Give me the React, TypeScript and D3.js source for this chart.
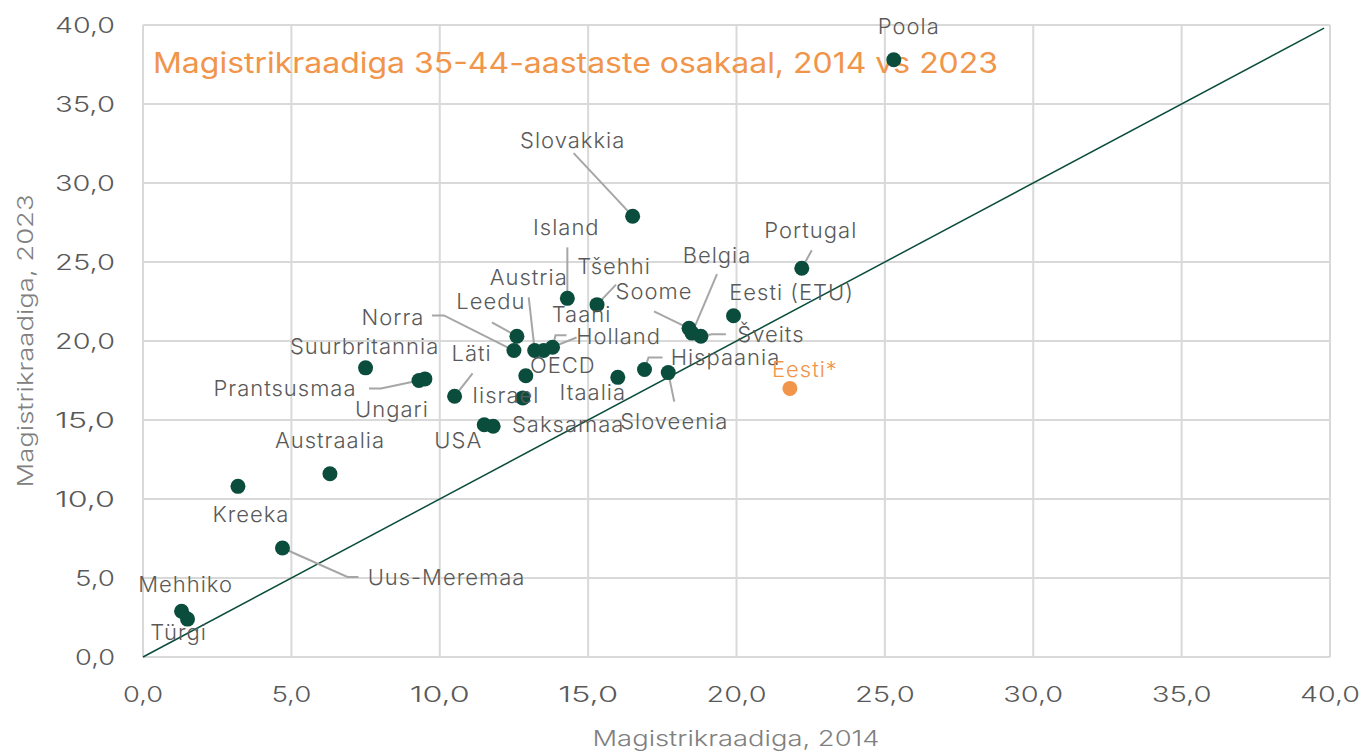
import React, { useEffect, useRef } from "react";
import * as d3 from "d3";

// Magistrikraadiga 35-44-aastaste osakaal
const countries = [
  "Poola", "Slovakkia", "Island", "Tšehhi", "Portugal", "Belgia", "Soome", "Eesti (ETU)",
  "Šveits", "Austria", "Leedu", "Taani", "Holland", "Norra", "OECD", "Läti",
  "Suurbritannia", "Prantsusmaa", "Ungari", "Iisrael", "Itaalia", "Hispaania", "Sloveenia",
  "Saksamaa", "USA", "Austraalia", "Kreeka", "Uus-Meremaa", "Mehhiko", "Türgi", "Eesti*",
];
const x2014 = [
  25.3, 16.5, 14.3, 15.3, 22.2, 18.5, 18.4, 19.9,
  18.8, 13.2, 12.6, 13.8, 13.5, 12.5, 12.9, 10.5,
  7.5, 9.3, 9.5, 12.8, 16.0, 16.9, 17.7,
  11.8, 11.5, 6.3, 3.2, 4.7, 1.3, 1.5, 21.8,
];
const y2023 = [
  37.8, 27.9, 22.7, 22.3, 24.6, 20.5, 20.8, 21.6,
  20.3, 19.4, 20.3, 19.6, 19.4, 19.4, 17.8, 16.5,
  18.3, 17.5, 17.6, 16.4, 17.7, 18.2, 18.0,
  14.6, 14.7, 11.6, 10.8, 6.9, 2.9, 2.4, 17.0,
];
const highlight = ["Eesti*"];

const xTicks = [0, 5, 10, 15, 20, 25, 30, 35, 40];
const yTicks = [0, 5, 10, 15, 20, 25, 30, 35, 40];

// label offsets in px from the point: [dx, dy(baseline), leader points...]
const labelPlacement: Record<string, { dx: number; dy: number; leader?: number[][] }> = {
  "Poola": { dx: 15, dy: -26 },
  "Slovakkia": { dx: -60, dy: -68, leader: [[-59, -63]] },
  "Island": { dx: -1, dy: -63, leader: [[0, -51]] },
  "Tšehhi": { dx: 17, dy: -31, leader: [[19, -20]] },
  "Portugal": { dx: 9, dy: -30, leader: [[10, -18]] },
  "Belgia": { dx: 25, dy: -70, leader: [[25, -59]] },
  "Soome": { dx: -35, dy: -29, leader: [[-35, -17]] },
  "Eesti (ETU)": { dx: 58, dy: -16 },
  "Šveits": { dx: 70, dy: 6, leader: [[25, -2], [11, -2]] },
  "Austria": { dx: -6, dy: -65, leader: [[-6, -53]] },
  "Leedu": { dx: -26, dy: -27, leader: [[-25, -14]] },
  "Taani": { dx: 29, dy: -25, leader: [[14, -12], [3, -12]] },
  "Holland": { dx: 75, dy: -6, leader: [[33, -13]] },
  "Norra": { dx: -121, dy: -25, leader: [[-82, -35], [-70, -35]] },
  "OECD": { dx: 37, dy: -3 },
  "Läti": { dx: 17, dy: -35, leader: [[18, -23]] },
  "Suurbritannia": { dx: -1, dy: -14 },
  "Prantsusmaa": { dx: -134, dy: 15, leader: [[-50, 8], [-38, 8]] },
  "Ungari": { dx: -33, dy: 38 },
  "Iisrael": { dx: -17, dy: 5 },
  "Itaalia": { dx: -25, dy: 23 },
  "Hispaania": { dx: 81, dy: -4, leader: [[18, -12], [4, -12]] },
  "Sloveenia": { dx: 6, dy: 56, leader: [[6, 29]] },
  "Saksamaa": { dx: 75, dy: 6 },
  "USA": { dx: -26, dy: 23 },
  "Austraalia": { dx: 0, dy: -26 },
  "Kreeka": { dx: 13, dy: 36 },
  "Uus-Meremaa": { dx: 164, dy: 37, leader: [[76, 29], [65, 29]] },
  "Mehhiko": { dx: 4, dy: -19 },
  "Türgi": { dx: -9, dy: 21 },
  "Eesti*": { dx: 15, dy: -11 },
};

const W = 1367;
const H = 751;
const FONT = "Inter, 'Open Sans', sans-serif";
const GREEN = "#0b4d3c";
const ORANGE = "#f0954a";
const fmt = (v: number) => v.toFixed(1).replace(".", ",");

export default function App() {
  const ref = useRef<SVGSVGElement>(null);

  useEffect(() => {
    document.body.style.margin = "0";
    const svg = d3.select(ref.current);
    svg.selectAll("*").remove();

    const x = d3.scaleLinear().domain([0, 40]).range([143, 1330]);
    const y = d3.scaleLinear().domain([0, 40]).range([657, 25]);

    // grid
    const grid = svg.append("g").attr("stroke", "#d9d9d9").attr("stroke-width", 2);
    grid.selectAll("line.v").data(xTicks).enter().append("line")
      .attr("x1", (d) => x(d)).attr("x2", (d) => x(d))
      .attr("y1", y(0)).attr("y2", y(40));
    grid.selectAll("line.h").data(yTicks).enter().append("line")
      .attr("class", "h")
      .attr("x1", x(0)).attr("x2", x(40))
      .attr("y1", (d) => y(d)).attr("y2", (d) => y(d));

    // tick labels
    const tickLen = (d: number) => (fmt(d).length === 4 ? 60 : 40);
    svg.append("g").selectAll("text").data(yTicks).enter().append("text")
      .attr("x", 115).attr("y", (d) => y(d) + 8)
      .attr("text-anchor", "end")
      .attr("font-family", FONT).attr("font-size", 22).attr("font-weight", 300).attr("fill", "#595959")
      .attr("textLength", tickLen)
      .attr("lengthAdjust", "spacingAndGlyphs")
      .text((d) => fmt(d));
    svg.append("g").selectAll("text").data(xTicks).enter().append("text")
      .attr("x", (d) => x(d)).attr("y", 702)
      .attr("text-anchor", "middle")
      .attr("font-family", FONT).attr("font-size", 22).attr("font-weight", 300).attr("fill", "#595959")
      .attr("textLength", tickLen)
      .attr("lengthAdjust", "spacingAndGlyphs")
      .text((d) => fmt(d));

    // axis titles
    svg.append("text")
      .attr("x", 736).attr("y", 746)
      .attr("text-anchor", "middle")
      .attr("font-family", FONT).attr("font-size", 22).attr("font-weight", 300).attr("fill", "#808080")
      .attr("textLength", 287).attr("lengthAdjust", "spacingAndGlyphs")
      .text("Magistrikraadiga, 2014");
    svg.append("text")
      .attr("transform", "translate(33, 341) rotate(-90)")
      .attr("text-anchor", "middle")
      .attr("font-family", FONT).attr("font-size", 22).attr("font-weight", 300).attr("fill", "#808080")
      .attr("textLength", 293).attr("lengthAdjust", "spacingAndGlyphs")
      .text("Magistrikraadiga, 2023");

    // title
    svg.append("text")
      .attr("x", 153).attr("y", 73)
      .attr("font-family", FONT).attr("font-size", 28).attr("fill", ORANGE)
      .attr("textLength", 845).attr("lengthAdjust", "spacingAndGlyphs")
      .text("Magistrikraadiga 35-44-aastaste osakaal, 2014 vs 2023");

    // y = x line
    svg.append("line")
      .attr("x1", x(0)).attr("y1", y(0))
      .attr("x2", x(39.8)).attr("y2", y(39.8))
      .attr("stroke", GREEN).attr("stroke-width", 1.5);

    const data = countries.map((c, i) => ({ name: c, x: x2014[i], y: y2023[i] }));

    // leader lines
    const lineGen = d3.line();
    svg.append("g").selectAll("path")
      .data(data.filter((d) => labelPlacement[d.name]?.leader))
      .enter().append("path")
      .attr("d", (d) => {
        const px = x(d.x), py = y(d.y);
        const pts = labelPlacement[d.name].leader!.map(([a, b]) => [px + a, py + b] as [number, number]);
        return lineGen([...pts, [px, py]]);
      })
      .attr("fill", "none").attr("stroke", "#a6a6a6").attr("stroke-width", 2);

    // dots
    svg.append("g").selectAll("circle").data(data).enter().append("circle")
      .attr("cx", (d) => x(d.x)).attr("cy", (d) => y(d.y)).attr("r", 7.5)
      .attr("fill", (d) => (highlight.includes(d.name) ? ORANGE : GREEN));

    // labels
    svg.append("g").selectAll("text").data(data).enter().append("text")
      .attr("x", (d) => x(d.x) + labelPlacement[d.name].dx)
      .attr("y", (d) => y(d.y) + labelPlacement[d.name].dy)
      .attr("text-anchor", "middle")
      .attr("font-family", FONT).attr("font-size", 22).attr("font-weight", 300).attr("letter-spacing", 1)
      .attr("fill", (d) => (highlight.includes(d.name) ? ORANGE : "#595959"))
      .text((d) => d.name);
  }, []);

  return <svg ref={ref} width={W} height={H} style={{ display: "block", background: "#fff" }} />;
}
